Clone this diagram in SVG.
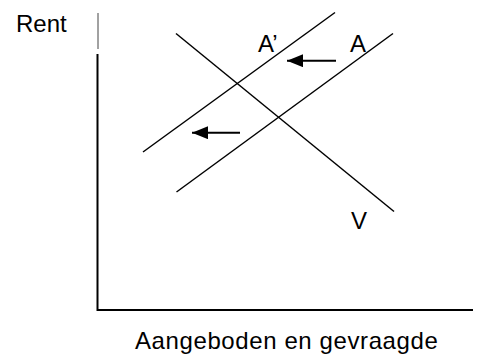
<svg xmlns="http://www.w3.org/2000/svg" width="477" height="355" viewBox="0 0 477 355">
<style>
.t{font-family:"Liberation Sans",Arial,sans-serif;font-size:24px;fill:#000}
.ax{stroke:#000;stroke-width:2;fill:none}
.ln{stroke:#000;stroke-width:1.5;fill:none}
.ar{stroke:#000;stroke-width:2;fill:none}
</style>
<defs>
<marker id="ah" markerWidth="16" markerHeight="13" refX="16" refY="6.5" orient="auto" markerUnits="userSpaceOnUse">
<path d="M0,0 L16,6.5 L0,13 Z" fill="#000"/>
</marker>
</defs>
<rect width="477" height="355" fill="#fff"/>
<g id="axes">
<line x1="98" y1="13" x2="98" y2="49" stroke="#444" stroke-width="1"/>
<polyline class="ax" points="97.5,54 97.5,310 473,310"/>
</g>
<g id="connectors">
<line id="curveA1" class="ln" x1="143" y1="152" x2="335" y2="12.5"/>
<line id="curveA" class="ln" x1="176.5" y1="192" x2="393" y2="33.5"/>
<line id="curveV" class="ln" x1="176" y1="33.5" x2="394" y2="211.5"/>
<line id="arrow1" class="ar" x1="336" y1="60.7" x2="287" y2="60.7" marker-end="url(#ah)"/>
<line id="arrow2" class="ar" x1="240" y1="132.7" x2="192" y2="132.7" marker-end="url(#ah)"/>
</g>
<g id="labels">
<text class="t" x="16" y="32">Rent</text>
<text class="t" x="258" y="52">A’</text>
<text class="t" x="350" y="52">A</text>
<text class="t" x="351" y="229">V</text>
<text class="t" x="135" y="349" letter-spacing="0.6">Aangeboden en gevraagde</text>
</g>
</svg>
